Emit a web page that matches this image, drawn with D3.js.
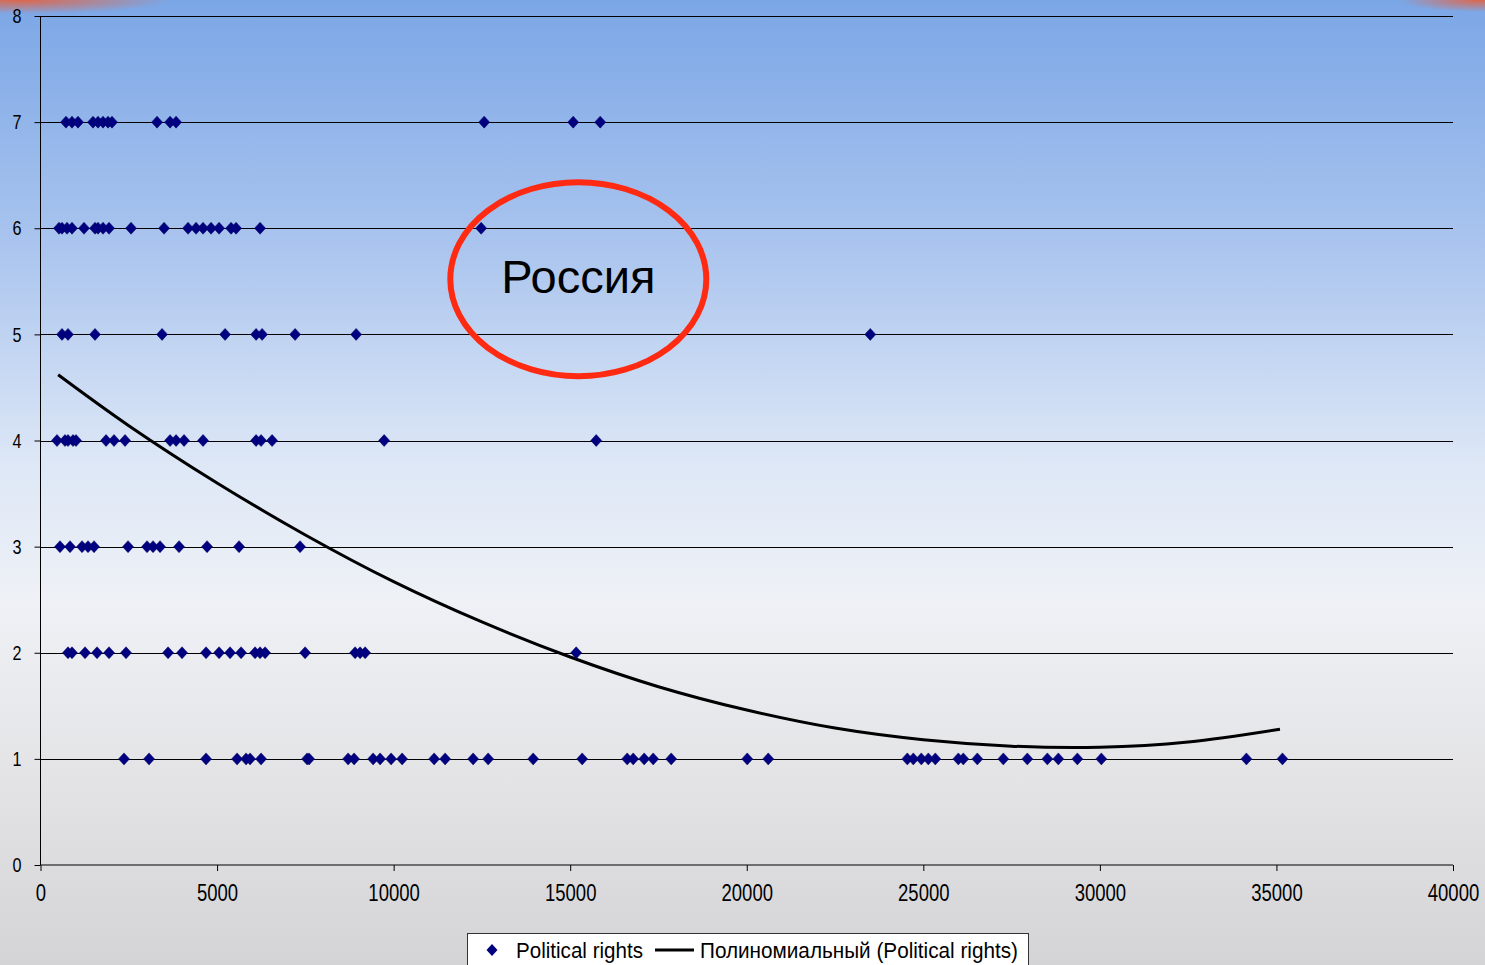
<!DOCTYPE html>
<html>
<head>
<meta charset="utf-8">
<script src="https://cdn.jsdelivr.net/npm/d3@7"></script>
<style>
  html, body { margin: 0; padding: 0; overflow: hidden; }
  #chart { width: 1485px; height: 965px; }
  .tick text { font-family: "Liberation Sans Narrow", "Arial Narrow", "Liberation Sans", sans-serif; fill: #000; }
</style>
</head>
<body>
<div id="chart"></div>
<script>
// political rights score (y) against GDP per capita (x)
const rows = [7, 6, 5, 4, 3, 2, 1];
const gdp7 = [722, 892, 1062, 1487, 1629, 1771, 1912, 2025, 3300, 3669, 3839, 12564, 15085, 15850];
const gdp6 = [524, 609, 751, 892, 1232, 1544, 1629, 1771, 1941, 2564, 3499, 4178, 4405, 4603, 4830, 5057, 5397, 5538, 6218, 12479];
const gdp5 = [609, 779, 1544, 3442, 5227, 6105, 6275, 7210, 8938, 23498];
const gdp4 = [467, 694, 779, 921, 1006, 1856, 2082, 2394, 3669, 3839, 4065, 4603, 6105, 6246, 6558, 9731, 15737];
const gdp3 = [552, 836, 1176, 1346, 1516, 2479, 3017, 3187, 3385, 3924, 4717, 5623, 7351];
const gdp2 = [779, 892, 1261, 1601, 1941, 2422, 3612, 4008, 4688, 5057, 5368, 5680, 6076, 6218, 6360, 7493, 8909, 9051, 9193, 15170];
const gdp1 = [2365, 3074, 4688, 5567, 5822, 5935, 6246, 7550, 7606, 8711, 8881, 9419, 9618, 9929, 10241, 11147, 11459, 12252, 12677,
              13952, 15340, 16615, 16785, 17096, 17351, 17861, 20014, 20609,
              24547, 24717, 24943, 25142, 25340, 25992, 26133, 26530, 27266, 27946, 28513, 28824, 29363, 30042, 34150, 35170];
const gdpByRow = [gdp7, gdp6, gdp5, gdp4, gdp3, gdp2, gdp1];

// polynomial trend line
const trendX = [500, 2500, 5000, 7500, 10000, 12500, 15000, 17500, 20000, 22500, 25000, 27500, 30000, 32500, 35100];
const trendY = [4.62, 4.14, 3.60, 3.11, 2.67, 2.29, 1.96, 1.68, 1.46, 1.29, 1.18, 1.12, 1.11, 1.16, 1.28];

const xTicks = [0, 5000, 10000, 15000, 20000, 25000, 30000, 35000, 40000];
const yTicks = [0, 1, 2, 3, 4, 5, 6, 7, 8];
const seriesName = "Political rights";
const trendName = "Полиномиальный (Political rights)";
const highlightLabel = "Россия";

const W = 1485, H = 965;
const svg = d3.select("#chart").append("svg").attr("width", W).attr("height", H);

// slide background
const defs = svg.append("defs");
const bg = defs.append("linearGradient").attr("id", "bgGrad").attr("x1", 0).attr("y1", 0).attr("x2", 0).attr("y2", 1);
bg.append("stop").attr("offset", "0%").attr("stop-color", "#7ba6e6");
bg.append("stop").attr("offset", "25%").attr("stop-color", "#a9c4ee");
bg.append("stop").attr("offset", "48%").attr("stop-color", "#dde7f6");
bg.append("stop").attr("offset", "62%").attr("stop-color", "#eef1f6");
bg.append("stop").attr("offset", "80%").attr("stop-color", "#e4e4e6");
bg.append("stop").attr("offset", "100%").attr("stop-color", "#d4d4d6");
const glowL = defs.append("radialGradient").attr("id", "glowL");
glowL.append("stop").attr("offset", "0%").attr("stop-color", "#e8603a").attr("stop-opacity", 0.9);
glowL.append("stop").attr("offset", "100%").attr("stop-color", "#e8603a").attr("stop-opacity", 0);
svg.append("rect").attr("width", W).attr("height", H).attr("fill", "url(#bgGrad)");
svg.append("ellipse").attr("cx", 20).attr("cy", 0).attr("rx", 150).attr("ry", 14).attr("fill", "url(#glowL)");
svg.append("ellipse").attr("cx", 1480).attr("cy", 0).attr("rx", 80).attr("ry", 12).attr("fill", "url(#glowL)");

const x = d3.scaleLinear().domain([0, 40000]).range([40.5, 1453]);
const y = d3.scaleLinear().domain([0, 8]).range([865, 16]);

// horizontal grid
svg.append("g").selectAll("line")
    .data(yTicks.filter(d => d > 0))
    .enter().append("line")
        .attr("x1", x(0)).attr("x2", x(40000))
        .attr("y1", d => Math.round(y(d)) + 0.5).attr("y2", d => Math.round(y(d)) + 0.5)
        .attr("stroke", "#000").attr("stroke-width", 1);

const yAxis = svg.append("g")
    .attr("transform", `translate(${x(0)},0)`)
    .call(d3.axisLeft(y).tickValues(yTicks).tickSize(6).tickPadding(13).tickFormat(d3.format("d")));
yAxis.selectAll("text").attr("font-size", 21).attr("textLength", 9).attr("lengthAdjust", "spacingAndGlyphs");

const xAxis = svg.append("g")
    .attr("transform", `translate(0,${y(0)})`)
    .call(d3.axisBottom(x).tickValues(xTicks).tickSize(6).tickPadding(14).tickFormat(d3.format("d")));
xAxis.selectAll("text").attr("font-size", 23)
    .attr("textLength", d => String(d).length * 10.3).attr("lengthAdjust", "spacingAndGlyphs");
svg.selectAll(".domain, .tick line").attr("stroke", "#000");
svg.selectAll(".domain").attr("d", null);
yAxis.append("line").attr("x1", 0).attr("x2", 0).attr("y1", y(0)).attr("y2", y(8)).attr("stroke", "#000");
xAxis.append("line").attr("x1", x(0)).attr("x2", x(40000)).attr("y1", 0).attr("y2", 0).attr("stroke", "#000");

// trend line
const trend = trendX.map((v, i) => [v, trendY[i]]);
svg.append("path")
    .datum(trend)
    .attr("fill", "none")
    .attr("stroke", "#000")
    .attr("stroke-width", 3)
    .attr("d", d3.line().x(d => x(d[0])).y(d => y(d[1])).curve(d3.curveCatmullRom));

// points
const diamond = "M0,-6L5.5,0L0,6L-5.5,0Z";
const points = [];
rows.forEach((r, i) => gdpByRow[i].forEach(v => points.push({ gdp: v, score: r })));
svg.append("g").selectAll("path")
    .data(points)
    .enter().append("path")
        .attr("d", diamond)
        .attr("transform", d => `translate(${x(d.gdp)},${y(d.score)})`)
        .attr("fill", "#000080")
        .attr("stroke", "#00005a").attr("stroke-width", 0.5);

// highlight circle
svg.append("ellipse")
    .attr("cx", x(15230)).attr("cy", y(5.52))
    .attr("rx", 128).attr("ry", 97)
    .attr("fill", "none")
    .attr("stroke", "#ff2a12").attr("stroke-width", 6);
svg.append("text")
    .attr("x", x(15230)).attr("y", y(5.52) + 14)
    .attr("text-anchor", "middle")
    .attr("font-family", "Liberation Sans, Arial, sans-serif")
    .attr("font-size", 47)
    .text(highlightLabel);

// legend
const legend = svg.append("g").attr("transform", "translate(467,933)");
legend.append("rect").attr("x", 0.5).attr("y", 0.5).attr("width", 561).attr("height", 40)
    .attr("fill", "#fff").attr("stroke", "#333").attr("stroke-width", 1);
legend.append("path").attr("d", diamond).attr("transform", "translate(25,17)").attr("fill", "#000080");
const legendFont = "Liberation Sans Narrow, Arial Narrow, Liberation Sans, sans-serif";
legend.append("text").attr("x", 49).attr("y", 25).attr("font-family", legendFont).attr("font-size", 22)
    .attr("textLength", 127).attr("lengthAdjust", "spacingAndGlyphs").text(seriesName);
legend.append("line").attr("x1", 188).attr("x2", 227).attr("y1", 17).attr("y2", 17).attr("stroke", "#000").attr("stroke-width", 3);
legend.append("text").attr("x", 233).attr("y", 25).attr("font-family", legendFont).attr("font-size", 22)
    .attr("textLength", 318).attr("lengthAdjust", "spacingAndGlyphs").text(trendName);
</script>
</body>
</html>
